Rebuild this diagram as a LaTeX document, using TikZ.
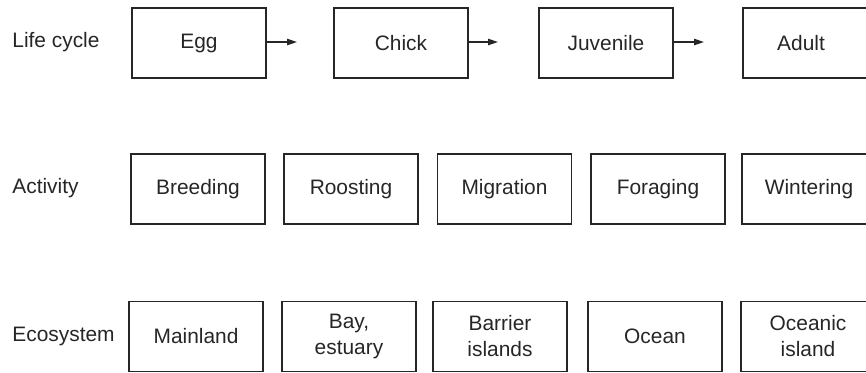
\documentclass[tikz,border=0pt]{standalone}
\usepackage{fontspec}
\setmainfont{Liberation Sans}
\usetikzlibrary{arrows.meta}
\definecolor{ink}{HTML}{262626}
\begin{document}
\begin{tikzpicture}[x=0.5pt,y=-0.5pt,
  every node/.style={font=\fontsize{10.45}{13}\selectfont, text=ink},
  stage/.style={draw=ink, line width=0.7pt, minimum width=67pt, minimum height=35pt,
    inner sep=0pt, align=center},
  rowlabel/.style={anchor=west, inner sep=0pt},
  flow/.style={draw=ink, line width=0.7pt, -{Triangle[length=5pt,width=3.2pt]}}]
\useasboundingbox (0,0) rectangle (866,372);

% row labels
\node[rowlabel] (lc)  at (12,42)  {Life cycle};
\node[rowlabel] (act) at (12,188) {Activity};
\node[rowlabel] (eco) at (12,336) {Ecosystem};

% life cycle
\node[stage] (egg)   at (199,43) {Egg};
\node[stage] (chick) at (401,43) {Chick};
\node[stage] (juv)   at (606,43) {Juvenile};
\node[stage] (adult) at (810,43) {Adult\hspace*{9pt}};

\coordinate (e1) at (297,42);
\coordinate (e2) at (498,42);
\coordinate (e3) at (704,42);
\draw[flow] (egg.east |- e1) -- (e1);
\draw[flow] (chick.east |- e2) -- (e2);
\draw[flow] (juv.east |- e3) -- (e3);

% activity
\node[stage] (breed)  at (198,189) {Breeding};
\node[stage] (roost)  at (351,189) {Roosting};
\node[stage] (migr)   at (504.5,189) {Migration};
\node[stage] (forage) at (658,189) {Foraging};
\node[stage] (winter) at (809,189) {Wintering};

% ecosystem
\node[stage] (main)    at (196,336.5) {Mainland};
\node[stage] (bay)     at (349,336.5) {Bay,\\estuary};
\node[stage] (barrier) at (500,336.5) {Barrier\\islands};
\node[stage] (ocean)   at (655,336.5) {Ocean};
\node[stage] (oisland) at (808,336.5) {Oceanic\\island};
\end{tikzpicture}
\end{document}
